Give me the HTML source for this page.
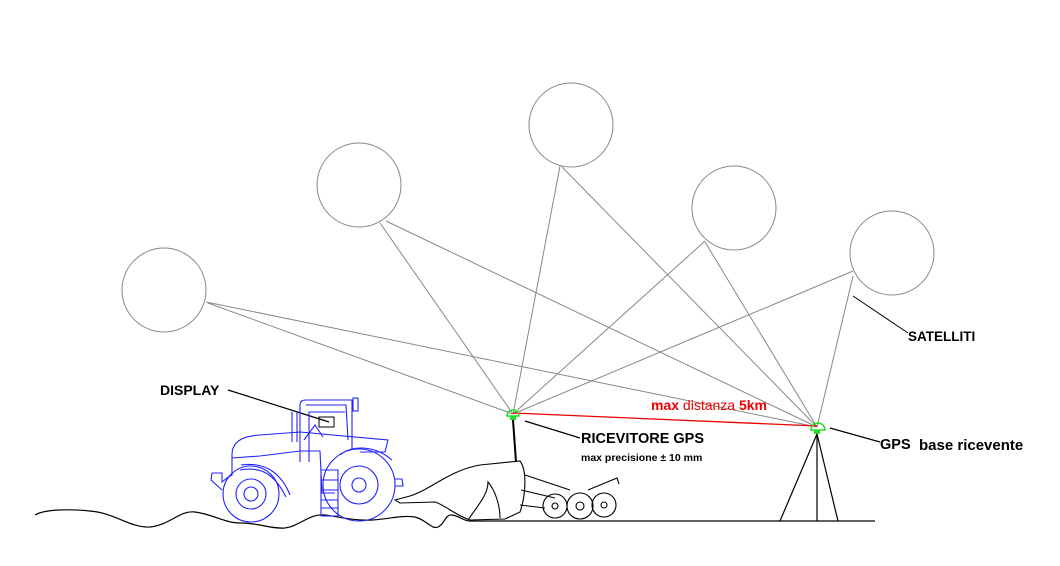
<!DOCTYPE html>
<html><head><meta charset="utf-8"><style>
html,body{margin:0;padding:0;background:#fff;}
svg{display:block;}
text{font-family:"Liberation Sans",sans-serif;font-weight:bold;}
</style></head><body>
<svg width="1060" height="566" viewBox="0 0 1060 566" xmlns="http://www.w3.org/2000/svg">
<rect width="1060" height="566" fill="#fff"/>
<g fill="none" stroke="#888" stroke-width="1">
<circle cx="164" cy="290" r="42"/>
<circle cx="359" cy="185" r="42"/>
<circle cx="571" cy="125" r="42"/>
<circle cx="734" cy="208" r="42"/>
<circle cx="892" cy="253" r="42"/>
<line x1="206" y1="302" x2="817" y2="427"/>
<line x1="208" y1="303" x2="513" y2="414"/>
<line x1="386" y1="221" x2="817" y2="427"/>
<line x1="380" y1="223" x2="513" y2="414"/>
<line x1="560" y1="166" x2="513" y2="414"/>
<line x1="562" y1="167" x2="817" y2="427"/>
<line x1="705" y1="241" x2="513" y2="414"/>
<line x1="705" y1="242" x2="817" y2="427"/>
<line x1="853" y1="271" x2="513" y2="414"/>
<line x1="853" y1="276" x2="817" y2="427"/>
</g>
<line x1="853" y1="296" x2="908" y2="333" stroke="#000" stroke-width="1"/>
<text x="908" y="341" font-size="13.5">SATELLITI</text>
<line x1="513" y1="413" x2="817" y2="426" stroke="#e00" stroke-width="1.3"/>
<text x="651" y="410" font-size="14" fill="#e00">max <tspan font-weight="normal">distanza</tspan> 5km</text>
<g fill="none" stroke="#2d2" stroke-width="1.5">
<path d="M507 416 a6 6 0 0 1 12 0 z"/>
<path d="M811 430 a7 7 0 0 1 14 0 z"/>
</g>
<rect x="510" y="416" width="6" height="4" fill="#2d2"/>
<rect x="814" y="430" width="6" height="4" fill="#2d2"/>
<g stroke="#000" stroke-width="1.2" fill="none">
<line x1="817" y1="434" x2="780" y2="521"/>
<line x1="817" y1="434" x2="817" y2="521"/>
<line x1="817" y1="434" x2="838" y2="521"/>
<line x1="830" y1="428" x2="880" y2="442"/>
<line x1="525" y1="421" x2="580" y2="438"/>
<line x1="228" y1="390" x2="329" y2="422"/>
</g>
<text x="880" y="449" font-size="14.5">GPS</text>
<text x="919" y="450" font-size="15">base ricevente</text>
<text x="581" y="443" font-size="14.5">RICEVITORE GPS</text>
<text x="581" y="461" font-size="10.5">max precisione ± 10 mm</text>
<text x="160" y="395" font-size="14">DISPLAY</text>
<path d="M35 515 C45 509 70 509 90 511 C115 513 130 528 150 527 C170 525 180 510 195 512 C212 514 225 523 240 523 C260 523 270 529 285 528 C300 526 310 513 325 515 C340 517 355 521 372 520 C390 519 400 515 415 517 C425 519 432 530 438 527 C445 524 445 514 452 515 C460 516 463 521 470 521 L875 521" fill="none" stroke="#000" stroke-width="1.2"/>
<line x1="513" y1="420" x2="516" y2="462" stroke="#000" stroke-width="2"/>
<g fill="none" stroke="#000" stroke-width="1.1">
<path d="M395 500 L410 496 C430 490 450 470 480 465 L520 461 C527 470 526 495 520 512 L505 519 L470 520 C455 515 445 505 435 502 L400 503 Z"/>
<path d="M468 520 C478 505 488 495 488 482 C495 490 500 505 500 518"/>
<path d="M525 475 L570 490 M521 490 L555 498 M520 505 L545 508"/>
<circle cx="555" cy="506" r="12"/><circle cx="555" cy="506" r="3"/>
<circle cx="580" cy="506" r="13"/><circle cx="580" cy="506" r="4"/>
<circle cx="604" cy="505" r="12"/><circle cx="604" cy="505" r="3"/>
<path d="M588 490 L617 478 L619 484"/>
</g>
<g fill="none" stroke="#22f" stroke-width="1.1">
<circle cx="251" cy="494" r="28"/><circle cx="251" cy="494" r="15"/><circle cx="251" cy="494" r="7"/>
<circle cx="359" cy="485" r="36"/><circle cx="359" cy="485" r="19"/><circle cx="359" cy="485" r="7"/>
<path d="M212 473 L211 480 L222 490 M212 473 L222 473 L222 482 L227 478 L232 475 L232 455 C232 440 245 436 260 435 L300 432 L388 440 L385 452 L360 452"/>
<path d="M232 458 L260 456 L300 451 L320 451 L322 493 L335 493"/>
<path d="M241 465 C262 462 280 470 290 495 M240 470 C262 466 275 475 286 497"/>
<path d="M300 462 L300 405 Q300 400 306 400 L352 400 L352 450 M306 405 L346 405 L348 440"/>
<path d="M309 462 L309 412 L345 412"/>
<path d="M292 412 L292 442 M297 412 L297 442"/>
<path d="M304 440 L315 425 L323 437"/>
<path d="M321 470 L338 470 L338 516 L321 516 Z M321 480 L338 480 M321 490 L338 490 M321 500 L338 500 M321 508 L338 508"/>
<path d="M395 479 L402 479 L403 486 L395 486"/>
<rect x="353" y="398" width="5" height="13"/>
<path d="M340 455 C352 445 375 445 392 460"/>
</g>
<rect x="319" y="417" width="15" height="10" fill="none" stroke="#000" stroke-width="1"/>
</svg>
</body></html>
